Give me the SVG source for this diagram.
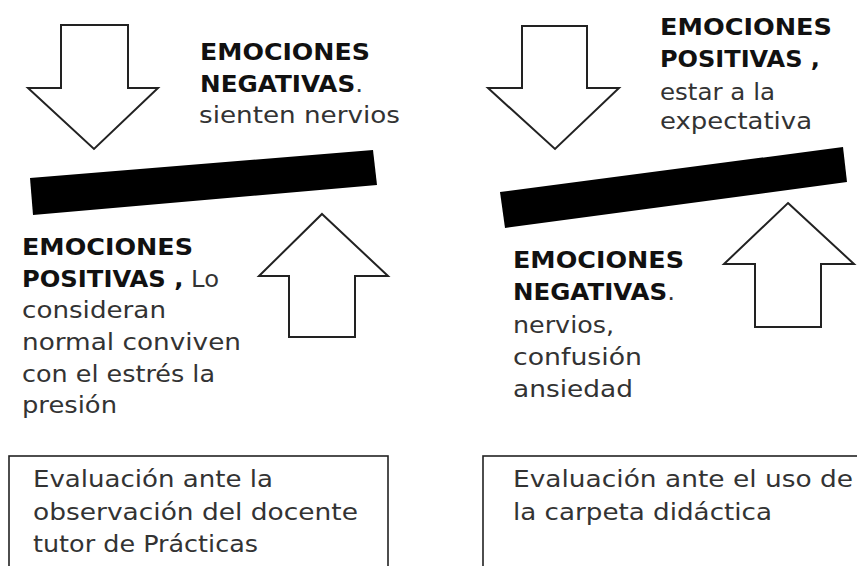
<svg xmlns="http://www.w3.org/2000/svg" width="857" height="566" viewBox="0 0 857 566">
<style>
.arrow{fill:#fff;stroke:#222;stroke-width:2;stroke-linejoin:miter}
.bar{fill:#000}
.box{fill:#fff;stroke:#222;stroke-width:1.6}
text{font-family:"DejaVu Sans","Liberation Sans",sans-serif;font-size:22.5px;fill:#333}
.b{font-weight:bold;fill:#111}
.t{font-size:23px;fill:#333}
</style>
<rect width="857" height="566" fill="#fff"/>
<g id="arrows">
<polygon class="arrow" points="61,25 128,25 128,88 158,88 94,149 28,88 61,88"/>
<polygon class="arrow" points="522,26 587,26 587,88 619,88 555,149 488,88 522,88"/>
<polygon class="arrow" points="322,214 388,276 355,276 355,337 289,337 289,276 259,276"/>
<polygon class="arrow" points="788,203 854,264 821,264 821,327 755,327 755,264 724,264"/>
</g>
<g id="bars">
<polygon class="bar" points="30,178 373,150 377,185 33,215"/>
<polygon class="bar" points="500,192 843,147 847,182 505,228"/>
</g>
<g id="label-top-left">
<text x="200" y="60" class="b" textLength="170" lengthAdjust="spacingAndGlyphs">EMOCIONES</text>
<text x="200" y="92" textLength="163" lengthAdjust="spacingAndGlyphs"><tspan class="b">NEGATIVAS</tspan>.</text>
<text x="199" y="123" textLength="201" lengthAdjust="spacingAndGlyphs">sienten nervios</text>
</g>
<g id="label-top-right">
<text x="660" y="35" class="b" textLength="172" lengthAdjust="spacingAndGlyphs">EMOCIONES</text>
<text x="660" y="67" class="b" textLength="160" lengthAdjust="spacingAndGlyphs">POSITIVAS ,</text>
<text x="660" y="100" textLength="115" lengthAdjust="spacingAndGlyphs">estar a la</text>
<text x="660" y="129" textLength="152" lengthAdjust="spacingAndGlyphs">expectativa</text>
</g>
<g id="label-bottom-left">
<text x="22" y="255" class="b" textLength="171" lengthAdjust="spacingAndGlyphs">EMOCIONES</text>
<text x="22" y="287" textLength="197" lengthAdjust="spacingAndGlyphs"><tspan class="b">POSITIVAS ,</tspan> Lo</text>
<text x="22" y="318" textLength="144" lengthAdjust="spacingAndGlyphs">consideran</text>
<text x="22" y="350" textLength="219" lengthAdjust="spacingAndGlyphs">normal conviven</text>
<text x="22" y="382" textLength="193" lengthAdjust="spacingAndGlyphs">con el estrés la</text>
<text x="22" y="413" textLength="95" lengthAdjust="spacingAndGlyphs">presión</text>
</g>
<g id="label-bottom-right">
<text x="513" y="268" class="b" textLength="171" lengthAdjust="spacingAndGlyphs">EMOCIONES</text>
<text x="513" y="300" textLength="162" lengthAdjust="spacingAndGlyphs"><tspan class="b">NEGATIVAS</tspan>.</text>
<text x="513" y="333" textLength="101" lengthAdjust="spacingAndGlyphs">nervios,</text>
<text x="513" y="365" textLength="129" lengthAdjust="spacingAndGlyphs">confusión</text>
<text x="513" y="397" textLength="120" lengthAdjust="spacingAndGlyphs">ansiedad</text>
</g>
<g id="box-left">
<rect class="box" x="9" y="456" width="379" height="120"/>
<text class="t" x="33" y="487" textLength="240" lengthAdjust="spacingAndGlyphs">Evaluación ante la</text>
<text class="t" x="33" y="520" textLength="325" lengthAdjust="spacingAndGlyphs">observación del docente</text>
<text class="t" x="33" y="552" textLength="225" lengthAdjust="spacingAndGlyphs">tutor de Prácticas</text>
</g>
<g id="box-right">
<rect class="box" x="483" y="456" width="390" height="120"/>
<text class="t" x="513" y="487" textLength="340" lengthAdjust="spacingAndGlyphs">Evaluación ante el uso de</text>
<text class="t" x="513" y="520" textLength="259" lengthAdjust="spacingAndGlyphs">la carpeta didáctica</text>
</g>
</svg>
